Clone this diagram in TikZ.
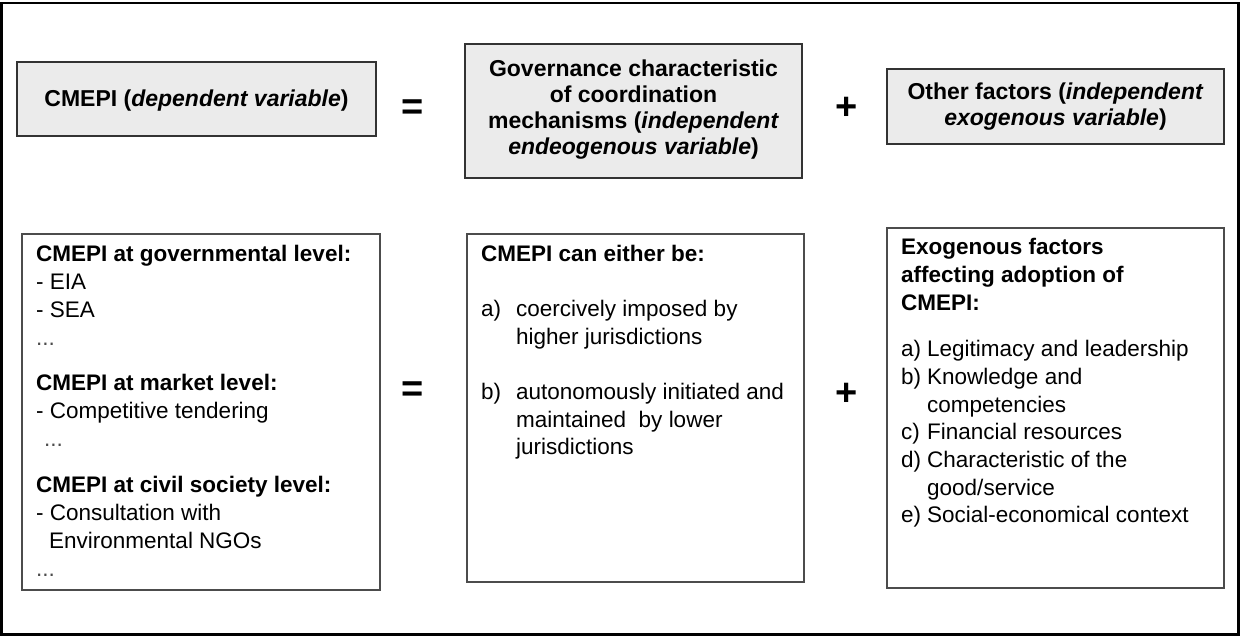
\documentclass[tikz,border=0pt]{standalone}
\usepackage{fontspec}
\setmainfont{Liberation Sans}
\newcommand\setfs[2]{\fontsize{#1}{#2}\selectfont}
\begin{document}
\begin{tikzpicture}[x=1pt,y=-1pt,
  graybox/.style={draw=black!80, fill=black!8, line width=1.1pt, inner sep=0pt},
  whitebox/.style={draw=black!70, fill=white, line width=1.1pt, inner sep=0pt},
  ctxt/.style={anchor=base, inner sep=0pt, align=center},
  ltxt/.style={anchor=base west, inner sep=0pt},
  op/.style={anchor=base, inner sep=0pt, font=\setfs{38}{38}\bfseries}]
\useasboundingbox (0,0) rectangle (1240,636);
\draw[line width=2.5pt] (1.5,3) rectangle (1238.5,634.5);

% top row
\node[graybox, minimum width=359pt, minimum height=74pt] (dep) at (196.5,99) {};
\node[ctxt, font=\setfs{23}{26}\bfseries] (deptxt) at (196.5,107) {CMEPI (\textit{dependent variable})};

\node[graybox, minimum width=337pt, minimum height=134pt] (gov) at (633.5,111) {};
\node[ctxt] (govtxt) at (633.5,77) {\parbox[t]{330pt}{\centering\setfs{23}{26}\bfseries
  Governance characteristic\\
  of coordination\\
  mechanisms (\textit{independent}\\
  \textit{endeogenous variable})}};

\node[graybox, minimum width=337pt, minimum height=75pt] (oth) at (1055.5,106.5) {};
\node[ctxt] (othtxt) at (1055.5,100) {\parbox[t]{330pt}{\centering\setfs{23}{26}\bfseries
  Other factors (\textit{independent}\\
  \textit{exogenous variable})}};

\node[op] (eq1) at (412.5,120) {=};
\node[op] (pl1) at (847,120) {+};

% bottom row
\node[whitebox, minimum width=358pt, minimum height=356pt] (lev) at (201,412) {};
\node[ltxt] (levtxt) at (36,262) {\parbox[t]{340pt}{\raggedright\setfs{22.5}{28}
  \textbf{CMEPI at governmental level:}\\
  - EIA\\
  - SEA\\
  {\color{black!70}...}\\[17pt]
  \textbf{CMEPI at market level:}\\
  - Competitive tendering\\
  \hspace*{8pt}{\color{black!70}...}\\[18pt]
  \textbf{CMEPI at civil society level:}\\
  - Consultation with\\
  \hspace*{13pt}Environmental NGOs\\
  {\color{black!70}...}}};

\node[whitebox, minimum width=337pt, minimum height=348pt] (coo) at (635.5,408) {};
\node[ltxt] (cootxt) at (481,262) {\parbox[t]{320pt}{\raggedright\setfs{22.5}{27.5}
  \textbf{CMEPI can either be:}\\[27.5pt]
  \makebox[35pt][l]{a)}coercively imposed by\\
  \hspace*{35pt}higher jurisdictions\\[28pt]
  \makebox[35pt][l]{b)}autonomously initiated and\\
  \hspace*{35pt}maintained\ \ by lower\\
  \hspace*{35pt}jurisdictions}};

\node[whitebox, minimum width=337pt, minimum height=360pt] (exo) at (1055.5,408) {};
\node[ltxt] (exotxt) at (901,255) {\parbox[t]{320pt}{\raggedright\setfs{22.5}{28}
  \textbf{Exogenous factors}\\
  \textbf{affecting adoption of}\\
  \textbf{CMEPI:}\\[18pt]
  \setfs{22.5}{27.7}%
  \makebox[26pt][l]{a)}Legitimacy and leadership\\
  \makebox[26pt][l]{b)}Knowledge and\\
  \hspace*{26pt}competencies\\
  \makebox[26pt][l]{c)}Financial resources\\
  \makebox[26pt][l]{d)}Characteristic of the\\
  \hspace*{26pt}good/service\\
  \makebox[26pt][l]{e)}Social-economical context}};

\node[op] (eq2) at (412.5,401) {=};
\node[op] (pl2) at (847,405) {+};
\end{tikzpicture}
\end{document}
